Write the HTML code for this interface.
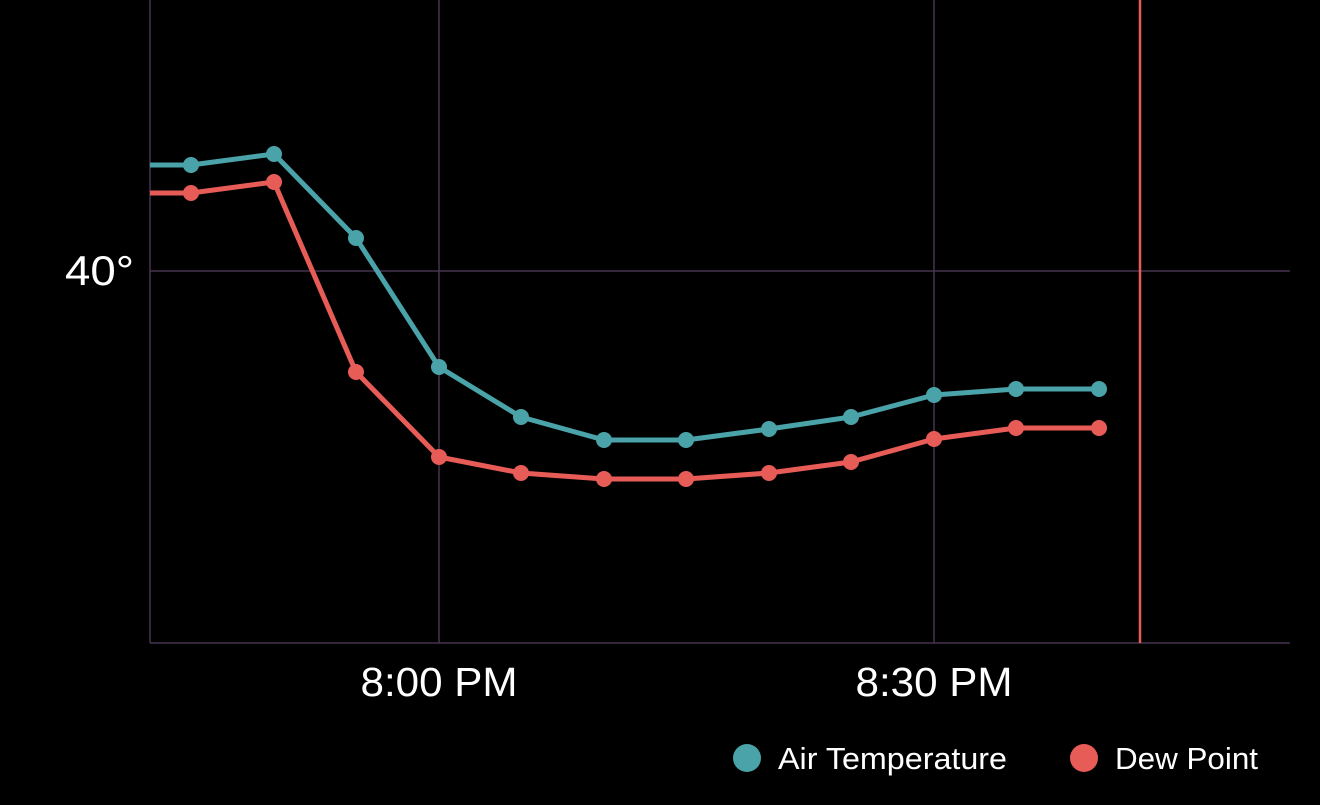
<!DOCTYPE html>
<html><head><style>
html,body{margin:0;padding:0;background:#000;width:1320px;height:805px;overflow:hidden}
text{font-family:"Liberation Sans",sans-serif;fill:#fff}
</style></head><body>
<svg width="1320" height="805" viewBox="0 0 1320 805">
<g stroke="#46344f" stroke-width="1.5" fill="none">
<line x1="150" y1="0" x2="150" y2="643"/>
<line x1="439" y1="0" x2="439" y2="643"/>
<line x1="934" y1="0" x2="934" y2="643"/>
<line x1="150" y1="271" x2="1290" y2="271"/>
<line x1="150" y1="643" x2="1290" y2="643"/>
</g>
<line x1="1140" y1="0" x2="1140" y2="643" stroke="#e85c58" stroke-width="2.5"/>
<polyline fill="none" stroke="#4aa3a8" stroke-width="5" stroke-linejoin="round" points="150,165 191,165 274,154 356,238 439,367 521,417 604,440 686,440 769,429 851,417 934,395 1016,389 1099,389"/>
<polyline fill="none" stroke="#e85c58" stroke-width="5" stroke-linejoin="round" points="150,193 191,193 274,182 356,372 439,457 521,473 604,479 686,479 769,473 851,462 934,439 1016,428 1099,428"/>
<g fill="#4aa3a8">
<circle cx="191" cy="165" r="8"/><circle cx="274" cy="154" r="8"/><circle cx="356" cy="238" r="8"/><circle cx="439" cy="367" r="8"/><circle cx="521" cy="417" r="8"/><circle cx="604" cy="440" r="8"/><circle cx="686" cy="440" r="8"/><circle cx="769" cy="429" r="8"/><circle cx="851" cy="417" r="8"/><circle cx="934" cy="395" r="8"/><circle cx="1016" cy="389" r="8"/><circle cx="1099" cy="389" r="8"/>
</g>
<g fill="#e85c58">
<circle cx="191" cy="193" r="8"/><circle cx="274" cy="182" r="8"/><circle cx="356" cy="372" r="8"/><circle cx="439" cy="457" r="8"/><circle cx="521" cy="473" r="8"/><circle cx="604" cy="479" r="8"/><circle cx="686" cy="479" r="8"/><circle cx="769" cy="473" r="8"/><circle cx="851" cy="462" r="8"/><circle cx="934" cy="439" r="8"/><circle cx="1016" cy="428" r="8"/><circle cx="1099" cy="428" r="8"/>
</g>
<text x="134" y="285" font-size="42" text-anchor="end" textLength="69" lengthAdjust="spacingAndGlyphs">40°</text>
<text x="439" y="696" font-size="41" text-anchor="middle" textLength="157" lengthAdjust="spacingAndGlyphs">8:00 PM</text>
<text x="934" y="696" font-size="41" text-anchor="middle" textLength="157" lengthAdjust="spacingAndGlyphs">8:30 PM</text>
<circle cx="747" cy="758" r="14" fill="#4aa3a8"/>
<text x="778" y="769" font-size="31" textLength="229" lengthAdjust="spacingAndGlyphs">Air Temperature</text>
<circle cx="1084" cy="758" r="14" fill="#e85c58"/>
<text x="1115" y="769" font-size="31" textLength="143" lengthAdjust="spacingAndGlyphs">Dew Point</text>
</svg>
</body></html>
